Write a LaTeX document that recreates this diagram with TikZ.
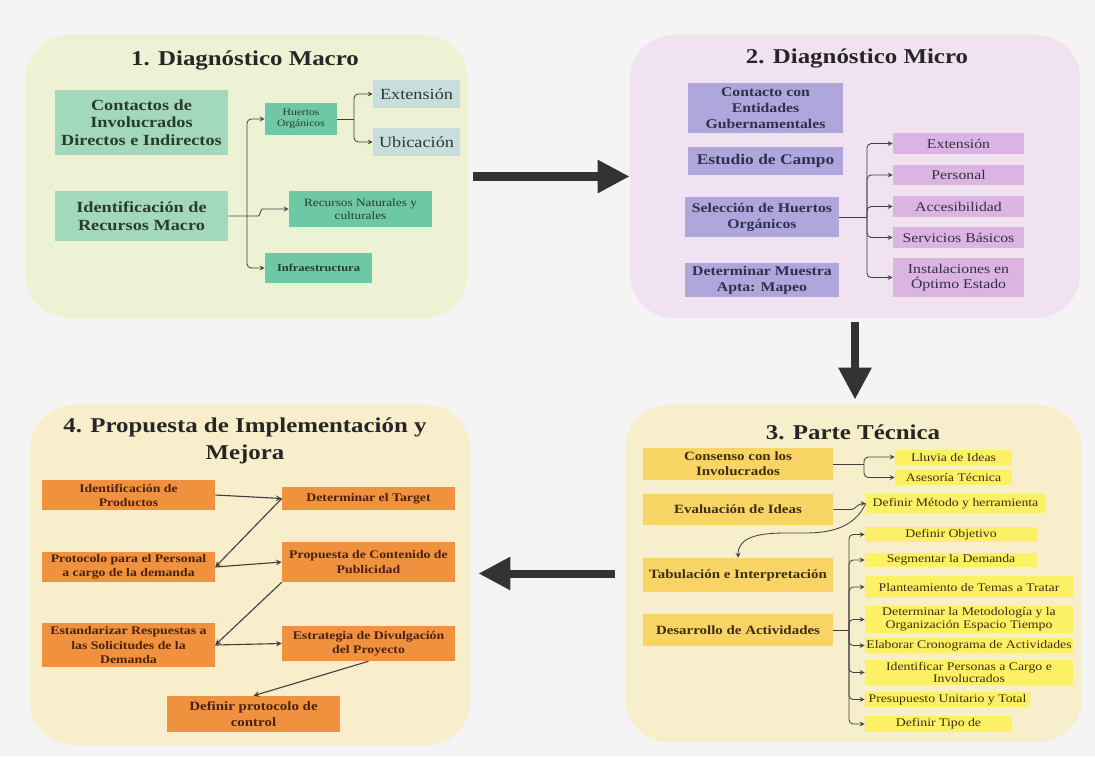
\documentclass[tikz,border=0pt]{standalone}
\usepackage{fontspec}
\setmainfont{Liberation Serif}[FakeStretch=1.18]
\usetikzlibrary{arrows.meta}

\definecolor{pagebg}{HTML}{F4F4F4}
\definecolor{macrobg}{HTML}{EEF2D5}
\definecolor{microbg}{HTML}{F1E2F1}
\definecolor{tecbg}{HTML}{F7EECB}
\definecolor{propbg}{HTML}{F8EECC}
\definecolor{mintbox}{HTML}{A2D9BD}
\definecolor{tealbox}{HTML}{6EC8A5}
\definecolor{greybox}{HTML}{C8DEDC}
\definecolor{lilacbox}{HTML}{AFA6DC}
\definecolor{pinkbox}{HTML}{DCB4E1}
\definecolor{goldbox}{HTML}{F7D464}
\definecolor{lemonbox}{HTML}{FCF064}
\definecolor{orangebox}{HTML}{F0913F}
\definecolor{linegray}{HTML}{404040}
\definecolor{arrowdark}{HTML}{333333}
\definecolor{greentext}{HTML}{2B3A2F}
\definecolor{purpletext}{HTML}{30304A}
\definecolor{ambertext}{HTML}{3E2E10}
\definecolor{browntext}{HTML}{4A2208}

\begin{document}
\begin{tikzpicture}[x=0.025cm, y=-0.025cm, >=stealth,
    panel/.style={rectangle, rounded corners=1.1cm, inner sep=0pt},
    title/.style={font=\fontsize{15}{19}\selectfont\bfseries, text=black!85, align=center},
    box/.style={rectangle, inner sep=1pt, align=center},
    conn/.style={->, draw=linegray, line width=0.6pt, rounded corners=3pt},
    link/.style={draw=linegray, line width=0.6pt},
    conn4/.style={->, draw=black!75, line width=0.8pt},
    bigarr/.style={-{Triangle[length=0.8cm,width=0.78cm]}, line width=5.7pt, draw=arrowdark},
    mint/.style={box, fill=mintbox, text=greentext},
    teal/.style={box, fill=tealbox, text=greentext},
    grey/.style={box, fill=greybox, text=greentext, font=\fontsize{11}{13}\selectfont},
    lilac/.style={box, fill=lilacbox, text=purpletext},
    pink/.style={box, fill=pinkbox, text=purpletext, font=\fontsize{9.5}{10.7}\selectfont, minimum width=3.275cm},
    gold/.style={box, fill=goldbox, text=ambertext, font=\fontsize{9}{10.5}\selectfont\bfseries, minimum width=4.75cm},
    lemon/.style={box, fill=lemonbox, text=ambertext, font=\fontsize{8.3}{9}\selectfont},
    orange/.style={box, fill=orangebox, text=browntext, font=\fontsize{8.3}{10}\selectfont\bfseries, minimum width=4.325cm}]

    \fill[pagebg] (0,0) rectangle (1095,756);
    \useasboundingbox (0,0) rectangle (1095,756);

    % Panels
    \node[panel, fill=macrobg, minimum width=11.075cm, minimum height=7.075cm] (p1) at (246.5,176.5) {};
    \node[panel, fill=microbg, minimum width=11.25cm, minimum height=7.075cm] (p2) at (855,176.5) {};
    \node[panel, fill=tecbg, minimum width=11.425cm, minimum height=8.425cm] (p3) at (853.5,573.5) {};
    \node[panel, fill=propbg, minimum width=11cm, minimum height=8.5cm] (p4) at (250,575) {};

    \draw[bigarr] ([xshift=0.125cm]p1.east) -- (p2.west);
    \draw[bigarr, shorten >=0.125cm] ([yshift=-0.1cm]p2.south) -- (p2.south |- p3.north);
    \draw[bigarr, shorten <=0.25cm, shorten >=0.2cm] (p3.west) -- (p3.west -| p4.east);

    % 1. Diagnostico Macro
    \node[title] (t1) at (245,60) {1. Diagnóstico Macro};
    \node[mint, font=\fontsize{11}{12.4}\selectfont\bfseries, minimum width=4.325cm, minimum height=1.625cm] (c1) at (141.5,122.5) {Contactos de\\Involucrados\\Directos e Indirectos};
    \node[mint, font=\fontsize{11}{13}\selectfont\bfseries, minimum width=4.325cm, minimum height=1.25cm] (idr) at (141.5,216) {Identificación de\\Recursos Macro};
    \node[teal, font=\fontsize{7}{7.5}\selectfont, minimum width=1.8cm, minimum height=0.775cm] (hue) at (301,119) {Huertos\\Orgánicos};
    \node[grey, minimum width=2.175cm, minimum height=0.7cm] (ext1) at (416.5,94) {Extensión};
    \node[grey, minimum width=2.175cm, minimum height=0.7cm] (ubi) at (416.5,142) {Ubicación};
    \node[teal, font=\fontsize{8}{9}\selectfont, minimum width=3.575cm, minimum height=0.9cm] (rnc) at (360.5,209) {Recursos Naturales y\\culturales};
    \node[teal, font=\fontsize{7.5}{9}\selectfont\bfseries, minimum width=2.675cm, minimum height=0.75cm] (inf) at (318.5,268) {Infraestructura};

    \coordinate (j1) at (247,216);
    \coordinate (j2) at (354,119);
    \draw[conn] (j1) |- (hue.west);
    \draw[conn] (j1) |- (inf.west);
    \draw[conn] (idr.east) -- ++(26,0) to[out=0,in=180] ++(12,-7) -- (rnc.west);
    \draw[link] (hue.east) -- (j2);
    \draw[conn] (j2) |- (ext1.west);
    \draw[conn] (j2) |- (ubi.west);

    % 2. Diagnostico Micro
    \node[title] (t2) at (857,58) {2. Diagnóstico Micro};
    \node[lilac, font=\fontsize{9.5}{11.2}\selectfont\bfseries, minimum width=3.875cm, minimum height=1.25cm] (cen) at (765.5,108) {Contacto con\\Entidades\\Gubernamentales};
    \node[lilac, font=\fontsize{10.5}{12}\selectfont\bfseries, minimum width=3.875cm, minimum height=0.7cm] (est) at (765.5,161) {Estudio de Campo};
    \node[lilac, font=\fontsize{9.5}{11.5}\selectfont\bfseries, minimum width=3.85cm, minimum height=1cm] (sel) at (762,217) {Selección de Huertos\\Orgánicos};
    \node[lilac, font=\fontsize{9.5}{11.5}\selectfont\bfseries, minimum width=3.85cm, minimum height=0.85cm] (dmu) at (762,280) {Determinar Muestra\\Apta: Mapeo};
    \node[pink, minimum height=0.525cm] (ext2) at (958.5,143.5) {Extensión};
    \node[pink, minimum height=0.5cm] (per) at (958.5,175) {Personal};
    \node[pink, minimum height=0.525cm] (acc) at (958.5,206.5) {Accesibilidad};
    \node[pink, minimum height=0.525cm] (ser) at (958.5,237.5) {Servicios Básicos};
    \node[pink, minimum height=0.975cm] (ins) at (958.5,277.5) {Instalaciones en\\Óptimo Estado};

    \coordinate (j3) at (867,217);
    \draw[link] (sel.east) -- (j3);
    \foreach \n in {ext2,per,acc,ser,ins}
        \draw[conn] (j3) |- (\n.west);

    % 3. Parte Tecnica
    \node[title] (t3) at (853,432) {3. Parte Técnica};
    \node[gold, minimum height=0.8cm] (con) at (738,464) {Consenso con los\\Involucrados};
    \node[gold, minimum height=0.775cm] (eva) at (738,509.5) {Evaluación de Ideas};
    \node[gold, minimum height=0.85cm] (tab) at (738,575) {Tabulación e Interpretación};
    \node[gold, minimum height=0.8cm] (des) at (738,630) {Desarrollo de Actividades};
    \node[lemon, minimum width=2.925cm, minimum height=0.375cm] (llu) at (953.5,457) {Lluvia de Ideas};
    \node[lemon, minimum width=2.925cm, minimum height=0.375cm] (ase) at (953.5,477.5) {Asesoría Técnica};
    \node[lemon, minimum width=4.475cm, minimum height=0.475cm] (dme) at (955.5,503.5) {Definir Método y herramienta};
    \node[lemon, minimum width=4.3cm, minimum height=0.375cm] (dob) at (951,534.5) {Definir Objetivo};
    \node[lemon, minimum width=4.3cm, minimum height=0.35cm] (seg) at (951,560) {Segmentar la Demanda};
    \node[lemon, minimum width=5.2cm, minimum height=0.55cm] (pla) at (969,587) {Planteamiento de Temas a Tratar};
    \node[lemon, minimum width=5.2cm, minimum height=0.625cm] (det) at (969,619.5) {Determinar la Metodología y la\\Organización Espacio Tiempo};
    \node[lemon, minimum width=5.2cm, minimum height=0.375cm] (ela) at (969,645.5) {Elaborar Cronograma de Actividades};
    \node[lemon, minimum width=5.2cm, minimum height=0.625cm] (ide) at (969,672.5) {Identificar Personas a Cargo e\\Involucrados};
    \node[lemon, minimum width=4.125cm, minimum height=0.375cm] (pre) at (947.5,699.5) {Presupuesto Unitario y Total};
    \node[lemon, minimum width=3.675cm, minimum height=0.4cm] (dti) at (938.5,724) {Definir Tipo de};

    \coordinate (j5) at (864,464);
    \draw[link] (con.east) -- (j5);
    \draw[conn] (j5) |- (llu.west);
    \draw[conn] (j5) |- (ase.west);
    \draw[conn] (eva.east) -- ++(14,0) to[out=0,in=180] (dme.west);
    \draw[conn] (dme.west) to[out=245,in=0] (800,533) to[out=180,in=90] (tab.north);
    \coordinate (j4) at (849,630);
    \draw[link] (des.east) -- (j4);
    \foreach \n in {dob,seg,pla,det,ela,ide,pre,dti}
        \draw[conn] (j4) |- (\n.west);

    % 4. Propuesta de Implementacion y Mejora
    \node[title] (t4) at (245,441) {4. Propuesta de Implementación y\\Mejora};
    \node[orange, minimum height=0.75cm] (idp) at (128.5,495) {Identificación de\\Productos};
    \node[orange, minimum height=0.575cm] (dta) at (368.5,498.5) {Determinar el Target};
    \node[orange, minimum height=0.75cm] (ppe) at (128.5,567) {Protocolo para el Personal\\a cargo de la demanda};
    \node[orange, minimum height=1cm] (pcp) at (368.5,562) {Propuesta de Contenido de\\Publicidad};
    \node[orange, minimum height=1.1cm] (esr) at (128.5,645) {Estandarizar Respuestas a\\las Solicitudes de la\\Demanda};
    \node[orange, minimum height=0.875cm] (edp) at (368.5,643.5) {Estrategia de Divulgación\\del Proyecto};
    \node[orange, font=\fontsize{9}{11}\selectfont\bfseries, minimum height=0.9cm] (dpc) at (253.5,714) {Definir protocolo de\\control};

    \draw[conn4] (idp.east) -- (dta.west);
    \draw[conn4] (dta.west) -- (ppe.east);
    \draw[conn4] (ppe.east) -- (pcp.west);
    \draw[conn4] (pcp.south west) -- (esr.east);
    \draw[conn4] (esr.east) -- (edp.west);
    \draw[conn4] (edp.south) -- (dpc.north);
\end{tikzpicture}
\end{document}
